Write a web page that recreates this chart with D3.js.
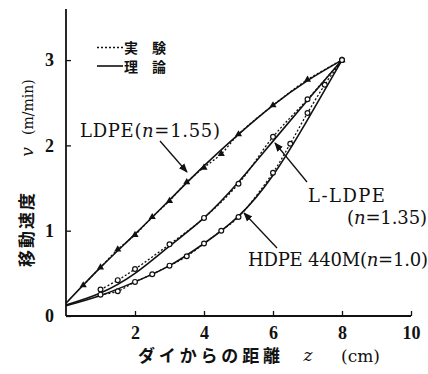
<!DOCTYPE html>
<html>
<head>
<meta charset="utf-8">
<script src="https://cdn.jsdelivr.net/npm/d3@7"></script>
<style>
  html, body { margin: 0; padding: 0; background: #fff; }
  svg { display: block; }
  .serif { font-family: "DejaVu Serif", "Liberation Serif", serif; }
  .cjk { font-family: "Noto Sans CJK JP", sans-serif; }
</style>
</head>
<body>
<svg id="chart" width="428" height="374"></svg>
<script>
// Theoretical velocity profiles v(z) for each resin (solid lines)
const zTheory = [0, 1, 2, 3, 4, 5, 6, 7, 8];
const ldpeTheory  = [0.15, 0.57, 0.96, 1.36, 1.76, 2.13, 2.47, 2.76, 3.0];
const lldpeTheory = [0.13, 0.27, 0.50, 0.82, 1.15, 1.57, 2.05, 2.53, 3.0];
const hdpeTheory  = [0.12, 0.24, 0.40, 0.59, 0.85, 1.17, 1.65, 2.30, 3.0];

// Measured velocities (dashed lines with markers)
const ldpeExpZ  = [0.5, 1, 1.5, 2, 2.5, 3, 3.5, 4, 4.5, 5, 6, 7, 8];
const ldpeExpV  = [0.36, 0.57, 0.78, 0.95, 1.16, 1.35, 1.57, 1.74, 1.90, 2.13, 2.47, 2.77, 3.0];
const lldpeExpZ = [1, 1.5, 2, 3, 4, 5, 6, 7, 8];
const lldpeExpV = [0.31, 0.42, 0.55, 0.84, 1.15, 1.55, 2.10, 2.54, 3.0];
const hdpeExpZ  = [1, 1.5, 2, 2.5, 3, 3.5, 4, 4.5, 5, 6, 6.5, 7, 7.5, 8];
const hdpeExpV  = [0.25, 0.29, 0.40, 0.49, 0.59, 0.70, 0.85, 1.00, 1.16, 1.68, 2.02, 2.38, 2.71, 3.0];

const xTicks = [2, 4, 6, 8, 10];
const yTicks = [0, 1, 2, 3];

const svg = d3.select("#chart");
const x = d3.scaleLinear().domain([0, 10]).range([66, 411]);
const y = d3.scaleLinear().domain([0, 3.6]).range([316, 8.9]);

// Axes: ticks point inward
const xAxis = d3.axisBottom(x).tickValues(xTicks).tickSize(-5).tickPadding(10).tickFormat(d3.format("d"));
const yAxis = d3.axisLeft(y).tickValues(yTicks).tickSize(-5).tickPadding(12).tickFormat(d3.format("d"));

const gx = svg.append("g").attr("transform", `translate(0,${y(0)})`).call(xAxis);
const gy = svg.append("g").attr("transform", `translate(${x(0)},0)`).call(yAxis);
[gx, gy].forEach(g => {
  g.select(".domain").attr("stroke", "#111").attr("stroke-width", 1.8);
  g.selectAll(".tick line").attr("stroke", "#111").attr("stroke-width", 1.3);
  g.selectAll(".tick text")
    .attr("fill", "#111")
    .attr("font-family", "'Liberation Serif', serif")
    .attr("font-weight", "bold")
    .attr("font-size", 18);
});
gx.select(".domain").attr("d", `M${x(0)},0H${x(10)}`);
gy.select(".domain").attr("d", `M0,${y(0)}V${y(3.6)}`);

const smooth = d3.line().x(d => x(d[0])).y(d => y(d[1])).curve(d3.curveNatural);
const through = d3.line().x(d => x(d[0])).y(d => y(d[1])).curve(d3.curveCatmullRom);

function theory(vals) {
  svg.append("path")
    .datum(zTheory.map((z, i) => [z, vals[i]]))
    .attr("d", smooth)
    .attr("fill", "none").attr("stroke", "#111").attr("stroke-width", 1.6);
}
function experiment(zs, vs, marker) {
  const pts = zs.map((z, i) => [z, vs[i]]);
  svg.append("path")
    .datum(pts)
    .attr("d", through)
    .attr("fill", "none").attr("stroke", "#111").attr("stroke-width", 1.3)
    .attr("stroke-dasharray", "2,2");
  if (marker === "triangle") {
    svg.append("g").selectAll("path").data(pts).join("path")
      .attr("transform", d => `translate(${x(d[0])},${y(d[1])})`)
      .attr("d", d3.symbol(d3.symbolTriangle, 22))
      .attr("fill", "#111");
  } else {
    svg.append("g").selectAll("circle").data(pts).join("circle")
      .attr("cx", d => x(d[0])).attr("cy", d => y(d[1]))
      .attr("r", 2.4)
      .attr("fill", "#fff").attr("stroke", "#111").attr("stroke-width", 1.2);
  }
}

theory(ldpeTheory);
theory(lldpeTheory);
theory(hdpeTheory);
experiment(ldpeExpZ, ldpeExpV, "triangle");
experiment(lldpeExpZ, lldpeExpV, "circle");
experiment(hdpeExpZ, hdpeExpV, "circle");

// Legend: dashed = measured, solid = theory
svg.append("line").attr("x1", 97).attr("x2", 123).attr("y1", 47.5).attr("y2", 47.5)
  .attr("stroke", "#111").attr("stroke-width", 1.3).attr("stroke-dasharray", "2,2");
svg.append("line").attr("x1", 97).attr("x2", 123).attr("y1", 66).attr("y2", 66)
  .attr("stroke", "#111").attr("stroke-width", 1.6);
const legendText = svg.append("text").attr("class", "cjk")
  .attr("font-size", 14).attr("font-weight", "bold").attr("fill", "#111");
legendText.append("tspan").attr("x", 124).attr("y", 53).text("実\u3000験");
legendText.append("tspan").attr("x", 124).attr("y", 72).text("理\u3000論");

// Curve labels with leader arrows
const defs = svg.append("defs");
defs.append("marker").attr("id", "arrow").attr("viewBox", "0 0 10 10")
  .attr("refX", 9).attr("refY", 5).attr("markerWidth", 7).attr("markerHeight", 7)
  .attr("orient", "auto-start-reverse")
  .append("path").attr("d", "M0,1L10,5L0,9z").attr("fill", "#111");

function leader(x1, y1, x2, y2) {
  svg.append("line").attr("x1", x1).attr("y1", y1).attr("x2", x2).attr("y2", y2)
    .attr("stroke", "#111").attr("stroke-width", 1.3).attr("marker-end", "url(#arrow)");
}

function label(xp, yp, width, parts) {
  const t = svg.append("text").attr("class", "serif").attr("x", xp).attr("y", yp)
    .attr("font-size", 18).attr("fill", "#111")
    .attr("textLength", width).attr("lengthAdjust", "spacing");
  parts.forEach(p => {
    const s = t.append("tspan").text(p[0]);
    if (p[1]) s.attr("font-style", "italic");
  });
}

label(80, 137, 140, [["LDPE("], ["n", true], ["=1.55)"]]);
leader(160, 141, 187, 172);

label(308, 202, 77, [["L-LDPE"]]);
label(347, 224, 80, [["("], ["n", true], ["=1.35)"]]);
leader(307, 182, 275, 143);

label(248, 266, 180, [["HDPE 440M("], ["n", true], ["=1.0)"]]);
leader(277, 248, 244, 213);

// Axis titles
const yTitle = svg.append("g").attr("transform", "translate(33,0) rotate(-90)");
yTitle.append("text").attr("class", "cjk").attr("x", -267).attr("y", 0)
  .attr("font-size", 17).attr("font-weight", "bold").attr("fill", "#111")
  .attr("textLength", 74).attr("lengthAdjust", "spacing").text("移動速度");
yTitle.append("text").attr("class", "serif").attr("x", -152).attr("y", 0)
  .attr("font-size", 17).attr("font-style", "italic").attr("text-anchor", "middle")
  .attr("fill", "#111").text("v");
yTitle.append("text").attr("class", "serif").attr("x", -135).attr("y", 0)
  .attr("font-size", 14).attr("fill", "#111").text("(m/min)");

svg.append("text").attr("class", "cjk").attr("x", 138).attr("y", 362)
  .attr("font-size", 17).attr("font-weight", "bold").attr("fill", "#111")
  .attr("textLength", 142).attr("lengthAdjust", "spacing").text("ダイからの距離");
svg.append("text").attr("class", "serif").attr("x", 308).attr("y", 361)
  .attr("font-size", 17).attr("font-style", "italic").attr("text-anchor", "middle")
  .attr("fill", "#111").text("z");
svg.append("text").attr("class", "serif").attr("x", 341).attr("y", 362)
  .attr("font-size", 17).attr("fill", "#111").text("(cm)");
</script>
</body>
</html>
